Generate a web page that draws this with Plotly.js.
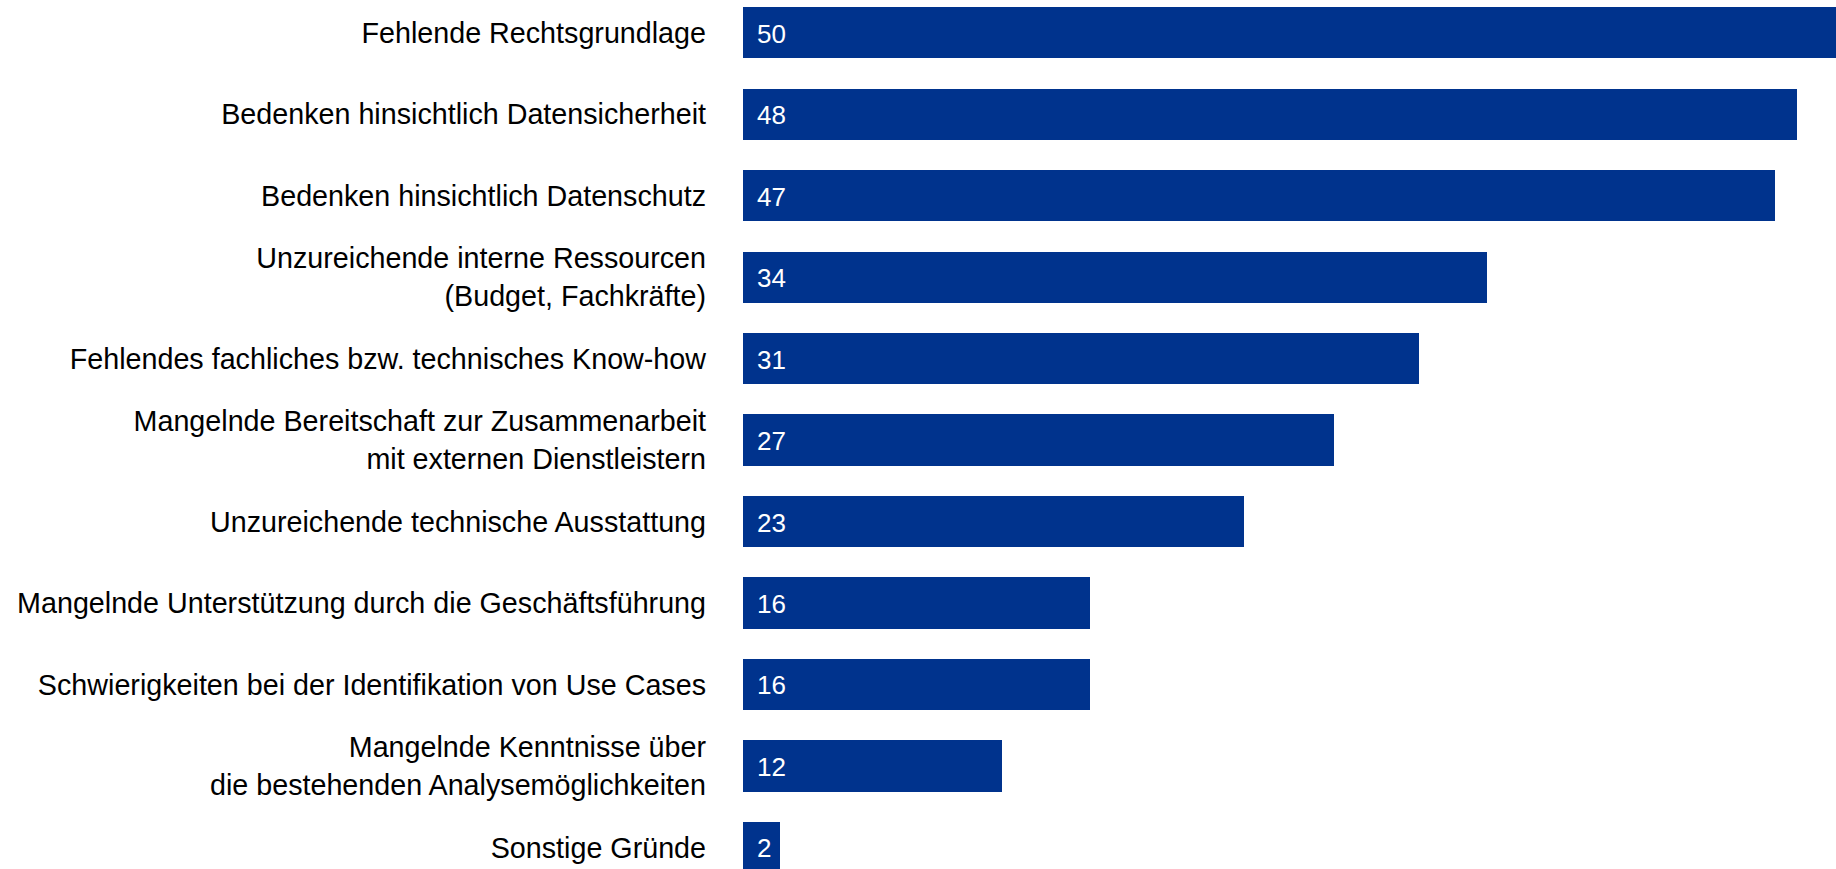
<!DOCTYPE html>
<html>
<head>
<meta charset="utf-8">
<script src="https://cdn.plot.ly/plotly-3.0.1.min.js"></script>
<style>
html,body{margin:0;padding:0;background:#fff;}
#chart{width:1836px;height:869px;}
</style>
</head>
<body>
<div id="chart"></div>
<script>
// Categories (top to bottom)
const categories = [
  "Fehlende Rechtsgrundlage",
  "Bedenken hinsichtlich Datensicherheit",
  "Bedenken hinsichtlich Datenschutz",
  "Unzureichende interne Ressourcen<br>(Budget, Fachkräfte)",
  "Fehlendes fachliches bzw. technisches Know-how",
  "Mangelnde Bereitschaft zur Zusammenarbeit<br>mit externen Dienstleistern",
  "Unzureichende technische Ausstattung",
  "Mangelnde Unterstützung durch die Geschäftsführung",
  "Schwierigkeiten bei der Identifikation von Use Cases",
  "Mangelnde Kenntnisse über<br>die bestehenden Analysemöglichkeiten",
  "Sonstige Gründe"
];
// Bar lengths
const values = [50, 48, 47, 33.9, 30.8, 26.9, 22.8, 15.8, 15.8, 11.8, 1.7];
// Printed value labels
const valueLabels = ["50", "48", "47", "34", "31", "27", "23", "16", "16", "12", "2"];

const barColor = "#00338D";
const font = "Liberation Sans, Arial, Helvetica, sans-serif";

const trace = {
  type: "bar",
  orientation: "h",
  x: values,
  y: categories,
  marker: {color: barColor, line: {width: 0}},
  width: 0.626,
  hoverinfo: "skip"
};

const annotations = categories.map((c, i) => ({
  x: 0, y: c, xref: "x", yref: "y",
  text: valueLabels[i],
  showarrow: false,
  xanchor: "left",
  xshift: 12,
  yshift: -1,
  font: {family: font, size: 26, color: "#ffffff"}
}));

const layout = {
  width: 1836, height: 869,
  margin: {l: 743, r: 0, t: 0, b: 0, pad: 0},
  paper_bgcolor: "#ffffff",
  plot_bgcolor: "#ffffff",
  showlegend: false,
  bargap: 0,
  xaxis: {
    range: [0, 49.77],
    visible: false,
    fixedrange: true
  },
  yaxis: {
    type: "category",
    range: [10.264, -0.399],
    showgrid: false, zeroline: false, showline: false,
    ticks: "",
    ticklabelstandoff: 36,
    tickfont: {family: font, size: 28.7, color: "#000000"},
    automargin: false,
    fixedrange: true
  },
  annotations: annotations,
  font: {family: font}
};

Plotly.newPlot("chart", [trace], layout, {displayModeBar: false, staticPlot: true});
</script>
</body>
</html>
